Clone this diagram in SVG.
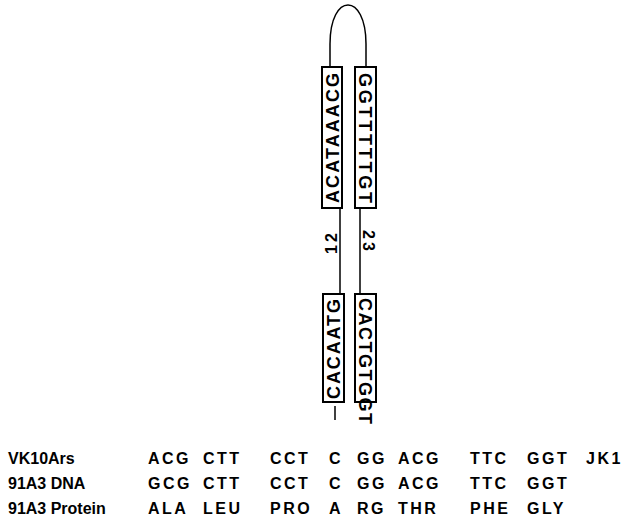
<svg xmlns="http://www.w3.org/2000/svg" width="626" height="518" viewBox="0 0 626 518">
  <style>
    .box { fill: #fff; stroke: #000; stroke-width: 2; }
    .wire { fill: none; stroke: #000; stroke-width: 1.5; }
    .seq { font-family: "Liberation Sans", Arial, sans-serif; font-size: 18px; font-weight: bold; fill: #000; }
    .num { font-family: "Liberation Sans", Arial, sans-serif; font-size: 16px; font-weight: bold; fill: #000; }
    .row { font-family: "Liberation Sans", Arial, sans-serif; font-size: 16px; font-weight: bold; fill: #000; letter-spacing: 2.5px; }
    .lbl { font-family: "Liberation Sans", Arial, sans-serif; font-size: 16px; font-weight: bold; fill: #000; }
  </style>

  <!-- connectors: hairpin loop and the two stems -->
  <g id="connectors">
    <path class="wire" d="M330,67 L330,44 C330,-8 366,-8 366,44 L366,67"/>
    <line class="wire" x1="340" y1="208" x2="340" y2="294"/>
    <line class="wire" x1="360" y1="208" x2="360" y2="294"/>
    <line class="wire" x1="335" y1="406" x2="335" y2="420"/>
  </g>

  <g id="upper-left">
    <rect class="box" x="322" y="67" width="20" height="141"/>
    <text class="seq" transform="translate(332,138) rotate(-90)" y="6.5" text-anchor="middle" textLength="130" lengthAdjust="spacing">ACATAAACG</text>
  </g>

  <g id="upper-right">
    <rect class="box" x="355" y="67" width="21" height="141"/>
    <text class="seq" transform="translate(365.5,138) rotate(90)" y="6.5" text-anchor="middle" textLength="130" lengthAdjust="spacing">GGTTTTTGT</text>
  </g>

  <g id="label-12">
    <text class="num" transform="translate(331,242) rotate(-90)" y="6" text-anchor="middle" letter-spacing="3">12</text>
  </g>
  <g id="label-23">
    <text class="num" transform="translate(369,242) rotate(90)" y="6" text-anchor="middle" letter-spacing="3">23</text>
  </g>

  <g id="lower-left">
    <rect class="box" x="323" y="294" width="21" height="108"/>
    <text class="seq" transform="translate(333.5,349) rotate(-90)" y="6.5" text-anchor="middle" textLength="100" lengthAdjust="spacing">CACAATG</text>
  </g>

  <g id="lower-right">
    <rect class="box" x="355" y="294" width="21" height="108"/>
    <text class="seq" transform="translate(365.5,361) rotate(90)" y="6.5" text-anchor="middle" textLength="126" lengthAdjust="spacing">CACTGTGGT</text>
  </g>

  <!-- aligned sequence table -->
  <g id="row-vk10ars">
    <text class="lbl" x="8" y="464">VK10Ars</text>
    <text class="row" y="464"><tspan x="148">ACG</tspan><tspan x="203">CTT</tspan><tspan x="270">CCT</tspan><tspan x="329">C</tspan><tspan x="357">GG</tspan><tspan x="398">ACG</tspan><tspan x="470">TTC</tspan><tspan x="527">GGT</tspan><tspan x="586">JK1</tspan></text>
  </g>
  <g id="row-91a3-dna">
    <text class="lbl" x="8" y="489">91A3 DNA</text>
    <text class="row" y="489"><tspan x="148">GCG</tspan><tspan x="203">CTT</tspan><tspan x="270">CCT</tspan><tspan x="329">C</tspan><tspan x="357">GG</tspan><tspan x="398">ACG</tspan><tspan x="470">TTC</tspan><tspan x="527">GGT</tspan></text>
  </g>
  <g id="row-91a3-protein">
    <text class="lbl" x="8" y="514">91A3 Protein</text>
    <text class="row" y="514"><tspan x="148">ALA</tspan><tspan x="203">LEU</tspan><tspan x="270">PRO</tspan><tspan x="329">A</tspan><tspan x="357">RG</tspan><tspan x="398">THR</tspan><tspan x="470">PHE</tspan><tspan x="527">GLY</tspan></text>
  </g>
</svg>
